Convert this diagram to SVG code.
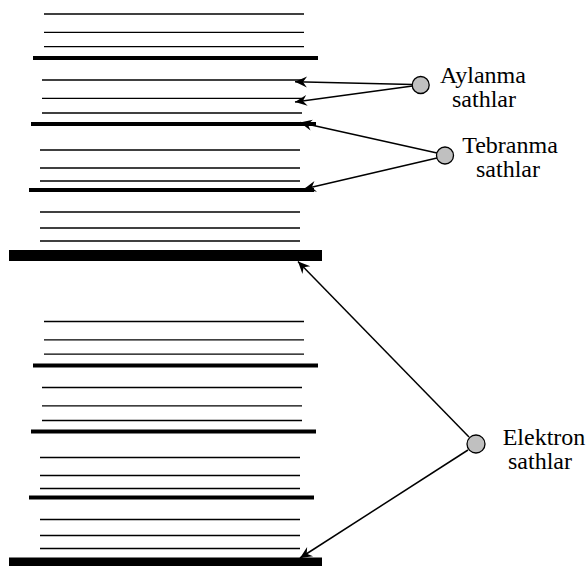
<svg xmlns="http://www.w3.org/2000/svg" width="587" height="566" viewBox="0 0 587 566">
  <style>
    .thin { stroke: #000; stroke-width: 1.3; }
    .thick { stroke: #000; stroke-width: 4; }
    .main { fill: #000; }
    .conn { stroke: #000; stroke-width: 1.5; fill: none; marker-end: url(#arrow); }
    .dot { fill: #c0c0c0; stroke: #000; stroke-width: 1.3; }
    .label { font-size: 24px; fill: #000; text-anchor: middle; }
  </style>
  <defs>
    <marker id="arrow" markerUnits="userSpaceOnUse" markerWidth="14" markerHeight="12" refX="12" refY="6" orient="auto" overflow="visible">
      <path d="M12,6 L0,0.5 L4,6 L0,11.5 z" fill="#000"/>
    </marker>
    <!-- one electronic level with its vibrational and rotational sublevels -->
    <g id="stack">
      <line class="thin" x1="44" y1="14" x2="304" y2="14"/>
      <line class="thin" x1="44" y1="32.3" x2="304" y2="32.3"/>
      <line class="thin" x1="44" y1="46.7" x2="304" y2="46.7"/>
      <line class="thick" x1="33" y1="58" x2="318" y2="58"/>
      <line class="thin" x1="42" y1="80" x2="302" y2="80"/>
      <line class="thin" x1="42" y1="98.3" x2="302" y2="98.3"/>
      <line class="thin" x1="42" y1="113" x2="302" y2="113"/>
      <line class="thick" x1="31" y1="124" x2="316" y2="124"/>
      <line class="thin" x1="40" y1="150" x2="300" y2="150"/>
      <line class="thin" x1="40" y1="168" x2="300" y2="168"/>
      <line class="thin" x1="40" y1="181" x2="300" y2="181"/>
      <line class="thick" x1="29" y1="190" x2="314" y2="190"/>
      <line class="thin" x1="40" y1="212" x2="300" y2="212"/>
      <line class="thin" x1="40" y1="228" x2="300" y2="228"/>
      <line class="thin" x1="40" y1="241" x2="300" y2="241"/>
      <rect class="main" x="9" y="250" width="313" height="11"/>
    </g>
  </defs>

  <g id="levels-upper"><use href="#stack"/></g>
  <g id="levels-lower"><use href="#stack" transform="translate(0,307.5)"/></g>

  <g id="connectors">
    <line class="conn" x1="412.5" y1="84.5" x2="295" y2="81.7"/>
    <line class="conn" x1="412.5" y1="86" x2="295" y2="102"/>
    <line class="conn" x1="437" y1="153" x2="300" y2="122.5"/>
    <line class="conn" x1="437" y1="158" x2="304" y2="189"/>
    <line class="conn" x1="469" y1="437" x2="298" y2="261.5"/>
    <line class="conn" x1="468" y1="450" x2="300" y2="558"/>
  </g>

  <g font-family="'Liberation Serif', 'Times New Roman', 'DejaVu Serif', serif">
    <g id="node-aylanma">
      <circle class="dot" cx="420.7" cy="85" r="8.5"/>
      <text class="label" x="483" y="83">Aylanma</text>
      <text class="label" x="484" y="106.5">sathlar</text>
    </g>
    <g id="node-tebranma">
      <circle class="dot" cx="445" cy="155.5" r="8.5"/>
      <text class="label" x="510" y="152.5">Tebranma</text>
      <text class="label" x="508" y="176.5">sathlar</text>
    </g>
    <g id="node-elektron">
      <circle class="dot" cx="476" cy="444" r="9"/>
      <text class="label" x="544" y="445">Elektron</text>
      <text class="label" x="540" y="468.5">sathlar</text>
    </g>
  </g>
</svg>
